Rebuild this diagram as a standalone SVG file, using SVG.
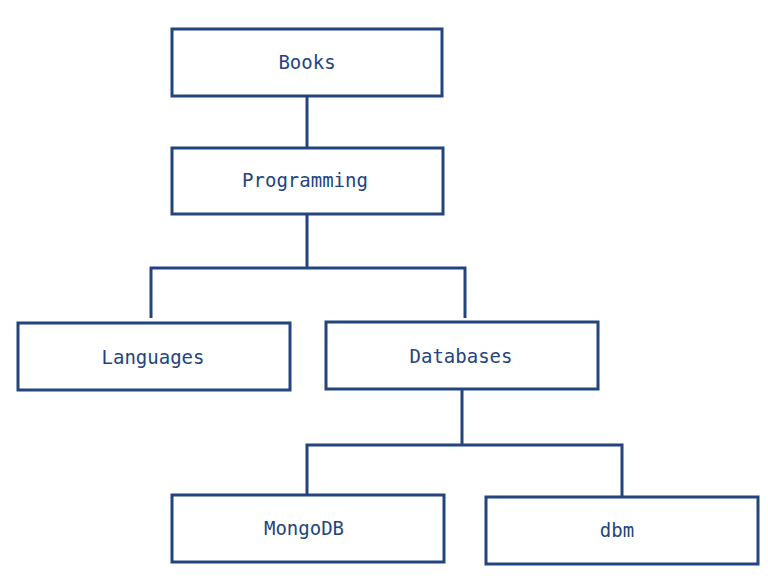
<svg xmlns="http://www.w3.org/2000/svg" width="768" height="579" viewBox="0 0 768 579">
<style>
.n rect{fill:#fff;stroke:#23447f;stroke-width:3}
.n text{font-family:"DejaVu Sans Mono",monospace;font-size:19px;fill:#23447f;text-anchor:middle;dominant-baseline:central}
.c path{fill:none;stroke:#23447f;stroke-width:3}
</style>
<rect width="768" height="579" fill="#fff"/>
<g class="c">
<path d="M307 96V148"/>
<path d="M307 214V268M151 318V268H465V318"/>
<path d="M462 389V445M307 495V445H622V497"/>
</g>
<g id="books" class="n"><rect x="172" y="29" width="270" height="67"/><text x="307" y="62">Books</text></g>
<g id="programming" class="n"><rect x="172" y="148" width="271" height="66"/><text x="305" y="180">Programming</text></g>
<g id="languages" class="n"><rect x="18" y="323" width="272" height="67"/><text x="153" y="357">Languages</text></g>
<g id="databases" class="n"><rect x="326" y="322" width="272" height="67"/><text x="461" y="356">Databases</text></g>
<g id="mongodb" class="n"><rect x="172" y="495" width="272" height="67"/><text x="304" y="528">MongoDB</text></g>
<g id="dbm" class="n"><rect x="486" y="497" width="272" height="67"/><text x="617" y="530">dbm</text></g>
</svg>
